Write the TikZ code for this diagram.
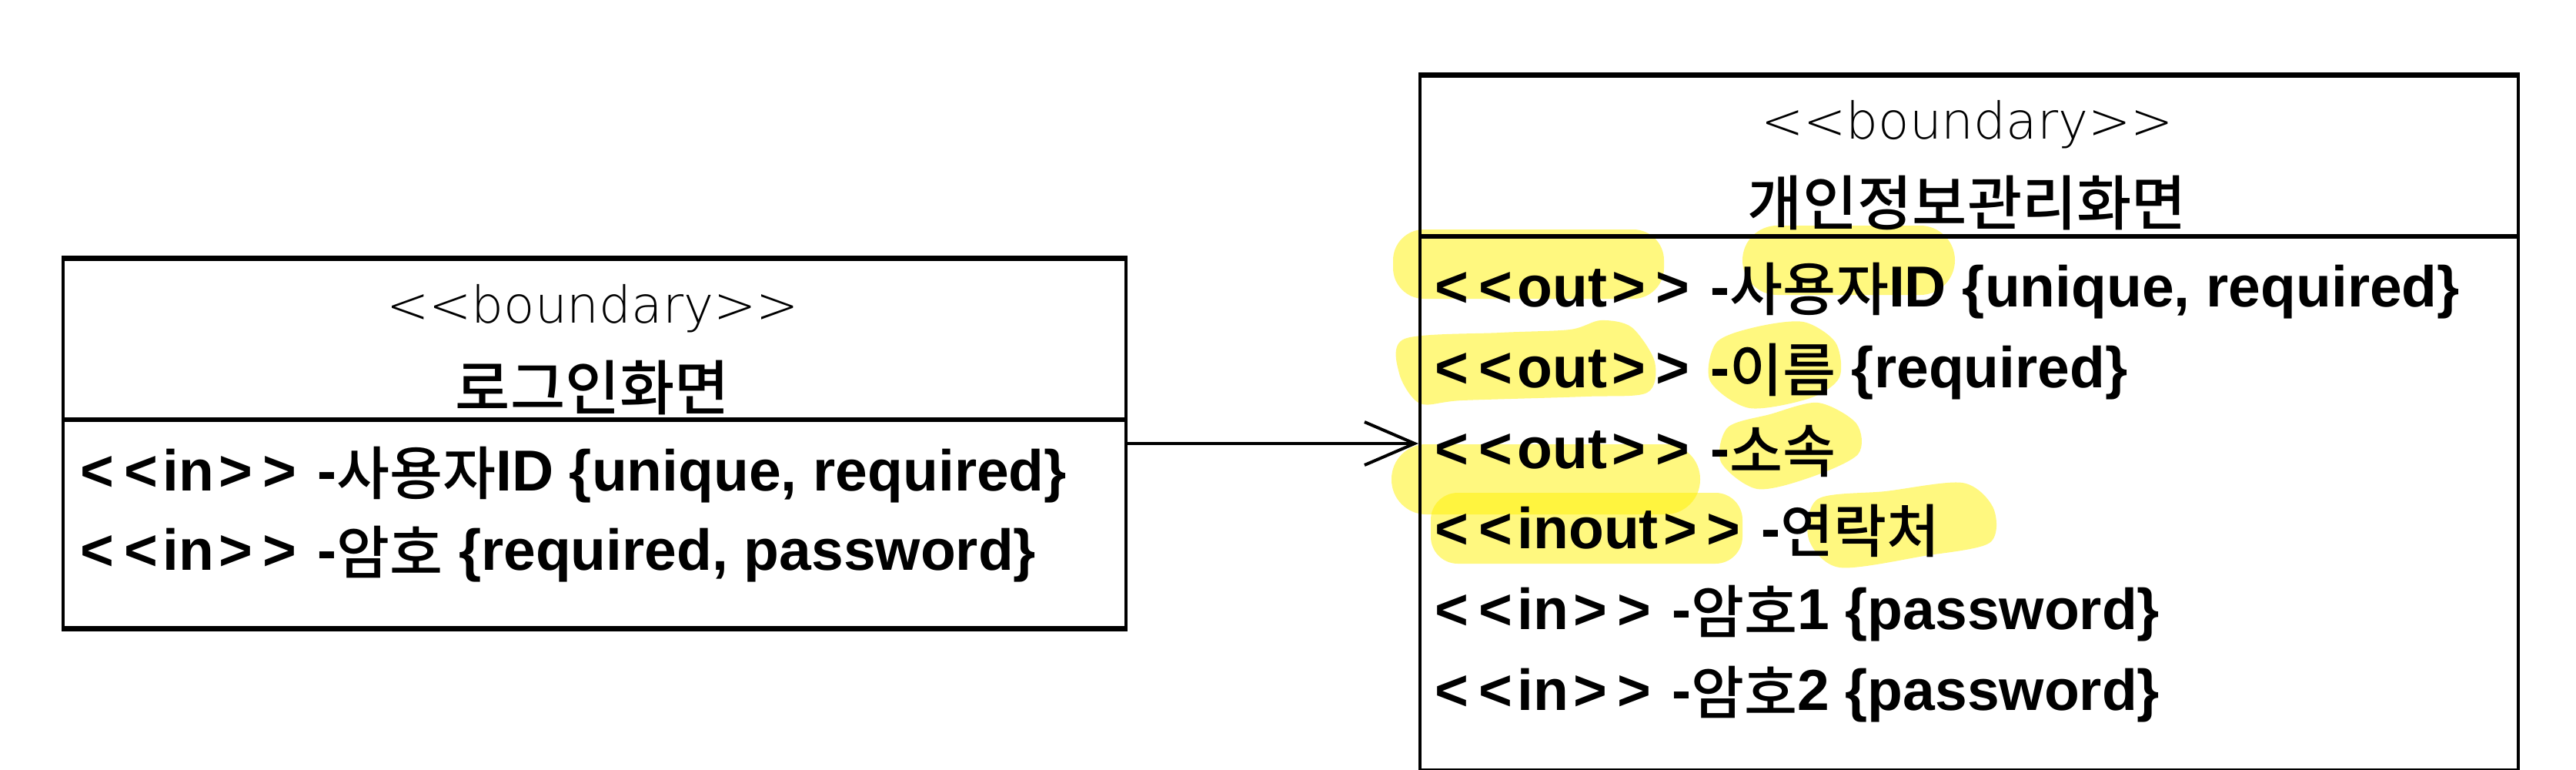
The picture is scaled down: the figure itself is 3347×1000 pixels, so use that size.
\documentclass[tikz,border=0pt]{standalone}
\usepackage{fontspec}
\setmainfont{Liberation Sans}
\IfFontExistsTF{Noto Sans CJK KR Medium}{\newfontfamily\kr{Noto Sans CJK KR Medium}}{\newfontfamily\kr{Noto Sans CJK KR}}
\IfFontExistsTF{DejaVu Sans ExtraLight}{\newfontfamily\thinf{DejaVu Sans ExtraLight}}{\newfontfamily\thinf{DejaVu Sans}}
\usetikzlibrary{arrows.meta,calc}
\newcommand\hk[1]{{\kr\mdseries\raisebox{-0.07em}{#1}}}
\newcommand\lab{\kern.085em<\kern.085em}
\newcommand\rab{\kern.085em>\kern.085em}
\begin{document}
\begin{tikzpicture}[x=0.4pt,y=-0.4pt,
  box/.style={draw, line width=1.6pt, inner sep=0pt, anchor=north west},
  hline/.style={line width=2.4pt},
  hl/.style={fill=yellow, fill opacity=0.5},
  rowtext/.style={anchor=base west, inner sep=0pt, font=\fontsize{30pt}{36pt}\selectfont\bfseries},
  hdr/.style={anchor=base, inner sep=0pt, font=\fontsize{26.4pt}{32pt}\selectfont\thinf},
  title/.style={anchor=base, inner sep=0pt, font=\fontsize{31pt}{36pt}\selectfont\kr},
  conn/.style={line width=1.6pt, -{Straight Barb[length=26pt, width=22.4pt]}}]
\fill[white] (0,0) rectangle (3347,1000);
\useasboundingbox (0,0) rectangle (3347,1000);

% highlights
\fill[hl, rounded corners=16pt] (1810,298) rectangle (2162,388);
\fill[hl, rounded corners=18pt] (2264,293) rectangle (2540,383);
\fill[hl] plot[smooth cycle] coordinates {(1825,440) (1950,432) (2040,428) (2080,416) (2120,425) (2150,470) (2140,510) (2060,515) (1900,520) (1845,524) (1818,485)};
\fill[hl] plot[smooth cycle] coordinates {(2343,418) (2385,445) (2390,490) (2352,517) (2273,530) (2222,495) (2230,445) (2280,425)};
\fill[hl, rounded corners=18pt] (1808,577) rectangle (2209,668);
\fill[hl] plot[smooth cycle] coordinates {(2362,523) (2412,550) (2414,590) (2352,620) (2283,635) (2236,600) (2245,555) (2300,538)};
\fill[hl, rounded corners=14pt] (1859,640) rectangle (2264,732);
\fill[hl] plot[smooth cycle] coordinates {(2362,648) (2450,638) (2550,627) (2590,660) (2585,705) (2500,722) (2390,737) (2350,700)};

% boxes
\node[box, minimum width=552.4pt, minimum height=191.2pt] (login) at (80,335) {};
\node[box, minimum width=570.8pt, minimum height=360.4pt] (info) at (1843,97) {};
\coordinate (ldiv) at (80,545);
\coordinate (rdiv) at (1843,307);
\draw[hline] (login.north west) -- (login.north east);
\draw[hline] (login.south west) -- (login.south east);
\draw[hline] (ldiv) -- (ldiv -| login.east);
\draw[hline] (info.north west) -- (info.north east);
\draw[hline] (rdiv) -- (rdiv -| info.east);

% left box text
\node[hdr] (lst) at (770,419) {<\kern0pt<boundary>\kern0pt>};
\node[title] (lname) at (770,532) {로그인화면};
\node[rowtext] (la1) at (98,637) {\lab\lab in\rab\rab{} -\hk{사용자}ID \{unique, required\}};
\node[rowtext] (la2) at (98,740) {\lab\lab in\rab\rab{} -\hk{암호} \{required, password\}};

% right box text
\node[hdr] (rst) at (2556,180) {<\kern0pt<boundary>\kern0pt>};
\node[title] (rname) at (2556,292) {개인정보관리화면};
\node[rowtext] (ra1) at (1858,398) {\lab\lab out\rab\rab{} -\hk{사용자}ID \{unique, required\}};
\node[rowtext] (ra2) at (1858,503) {\lab\lab out\rab\rab{} -\hk{이름} \{required\}};
\node[rowtext] (ra3) at (1858,608) {\lab\lab out\rab\rab{} -\hk{소속}};
\node[rowtext] (ra4) at (1858,712) {\lab\lab inout\rab\rab{} -\hk{연락처}};
\node[rowtext] (ra5) at (1858,817) {\lab\lab in\rab\rab{} -\hk{암호}1 \{password\}};
\node[rowtext] (ra6) at (1858,922) {\lab\lab in\rab\rab{} -\hk{암호}2 \{password\}};

% connector
\draw[conn] (login.east) -- (login.east -| info.west);
\end{tikzpicture}
\end{document}
